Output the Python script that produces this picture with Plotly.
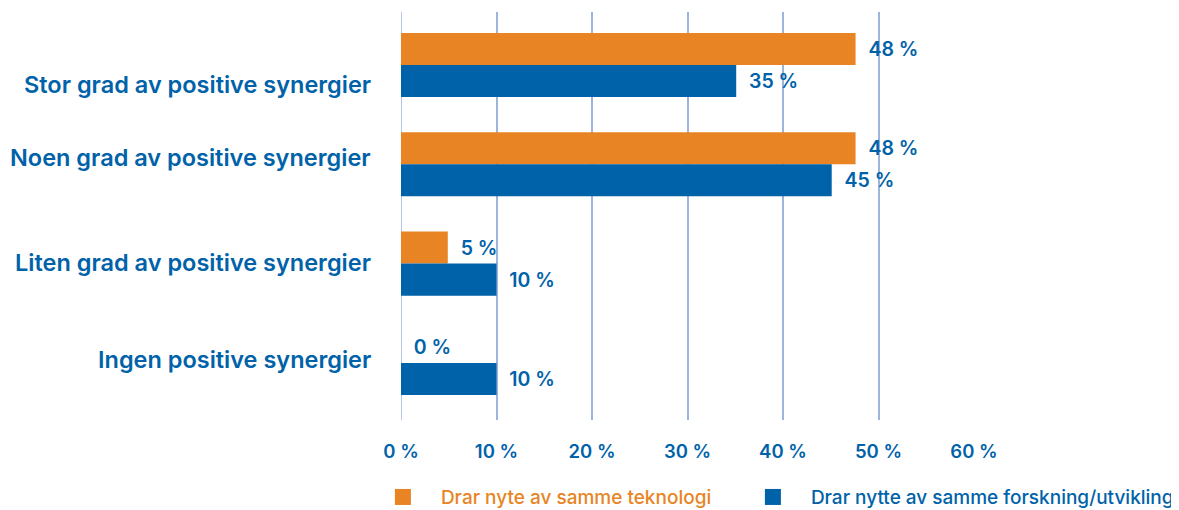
import plotly.graph_objects as go

categories = ["Stor grad av positive synergier", "Noen grad av positive synergier",
              "Liten grad av positive synergier", "Ingen positive synergier"]
series_names = ["Drar nyte av samme teknologi", "Drar nytte av samme forskning/utvikling"]
teknologi = [47.6, 47.6, 4.9, 0.0]
forskning = [35.1, 45.1, 10.0, 10.0]
tick_vals = [0, 10, 20, 30, 40, 50, 60]
tick_text = ["0 %", "10 %", "20 %", "30 %", "40 %", "50 %", "60 %"]

ORANGE = "#E88424"
BLUE = "#0062A8"
GRID = "#9BB5DD"
FONT = "Inter"

label_yshift = [-19, 7, 1, 3]

fig = go.Figure()
for name, vals, col in [(series_names[0], teknologi, ORANGE), (series_names[1], forskning, BLUE)]:
    fig.add_trace(go.Bar(
        y=categories, x=vals, orientation="h", name=name, showlegend=False,
        marker=dict(color=col, line=dict(width=0)),
        text=[f"\u00a0\u00a0{round(v):d} %" for v in vals], textposition="outside",
        textfont=dict(color=BLUE, size=19.5, family=FONT, weight=600),
        cliponaxis=False,
    ))
# legend entries (square swatches), one legend each
for name, col, lg in [(series_names[0], ORANGE, "legend"), (series_names[1], BLUE, "legend2")]:
    fig.add_trace(go.Scatter(
        x=[None], y=[None], mode="markers", name=f"<span style='color:{col}'>{name}</span>",
        marker=dict(symbol="square", size=20, color=col), showlegend=True, legend=lg,
    ))

for cat, ys in zip(categories, label_yshift):
    fig.add_annotation(x=0, xref="paper", xanchor="right", xshift=-28, y=cat, yref="y",
                       yshift=ys, text=cat, showarrow=False,
                       font=dict(color=BLUE, size=23.5, family=FONT, weight=600))

# gridline at 0 (plotly hides the grid line at the range edge)
fig.add_shape(type="line", xref="x", yref="paper", x0=0, x1=0, y0=0, y1=1,
              line=dict(color=GRID, width=1.5), layer="below")

legend_common = dict(orientation="h", xanchor="left", y=-0.189, yanchor="middle",
                     font=dict(size=19, family=FONT, weight=500, color=BLUE),
                     itemwidth=66, itemsizing="trace", bgcolor="rgba(0,0,0,0)")

fig.update_layout(
    width=1171, height=502,
    margin=dict(l=393, r=205, t=4, b=90, autoexpand=False),
    paper_bgcolor="white", plot_bgcolor="white",
    barmode="group", bargap=0.355, bargroupgap=0,
    showlegend=True,
    legend=dict(x=-0.063, **legend_common),
    legend2=dict(x=0.5827, **legend_common),
    font=dict(family=FONT),
)
fig.update_xaxes(range=[0, 60], tickvals=tick_vals, ticktext=tick_text, showgrid=True,
                 gridcolor=GRID, gridwidth=1.5, zeroline=False, showline=False,
                 tickfont=dict(color=BLUE, size=18.5, family=FONT, weight=600),
                 ticklabelstandoff=18, fixedrange=True)
fig.update_yaxes(type="category", categoryorder="array", categoryarray=categories,
                 range=[3.575, -0.534], showticklabels=False, showgrid=False,
                 zeroline=False, showline=False)

fig.write_html("out.html")
